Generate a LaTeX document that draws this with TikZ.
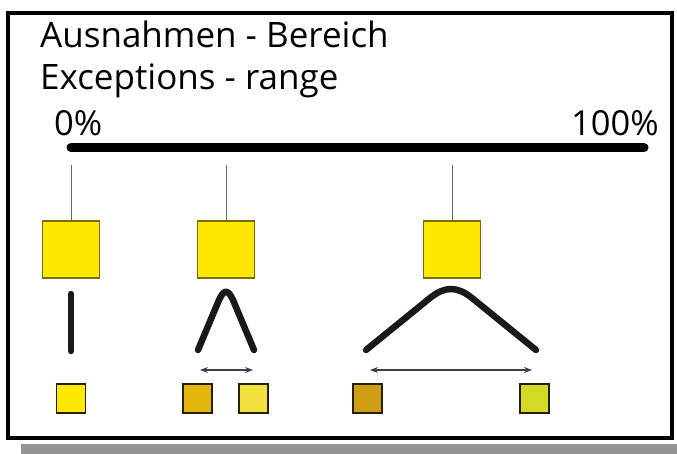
\documentclass[tikz,border=0pt]{standalone}
\usepackage{fontspec}
\setmainfont{Open Sans}
\usetikzlibrary{arrows.meta}
\definecolor{yel}{HTML}{FFE800}
\definecolor{yelb}{HTML}{7A6A10}
\definecolor{gold}{HTML}{E4B60C}
\definecolor{lyel}{HTML}{F3E23C}
\definecolor{brgold}{HTML}{D09C16}
\definecolor{ygreen}{HTML}{D2DA26}
\tikzset{
  bigsq/.style={draw=yelb, line width=1.2pt, fill=yel, minimum size=57pt, inner sep=0pt},
  smallsq/.style={draw=black!70!yelb, line width=1.2pt, minimum size=29pt, inner sep=0pt},
  tickline/.style={draw=black!60, line width=1pt},
  curveline/.style={draw=black!90, line width=6.5pt, line cap=round, line join=round},
  rng/.style={draw=black!75, line width=1.1pt, {Stealth[length=8pt,width=6pt]}-{Stealth[length=8pt,width=6pt]}},
  titletext/.style={anchor=base west, inner sep=0pt, font=\fontsize{35}{35}\selectfont},
  pcttext/.style={anchor=base west, inner sep=0pt, font=\fontsize{34.5}{34.5}\selectfont}
}
\begin{document}
\begin{tikzpicture}[x=1pt,y=-1pt]
\useasboundingbox (0,0) rectangle (677,454);
\fill[white] (0,0) rectangle (677,454);
% shadow bar and frame
\fill[black!42] (21,444) rectangle (677,454);
\draw[line width=4pt] (8,13) rectangle (672,438);
% texts
\node[titletext] (t1) at (40,48) {Ausnahmen - Bereich};
\node[titletext] (t2) at (40,90) {Exceptions - range};
\node[pcttext] (p0) at (54,136) {0\%};
\node[pcttext] (p100) at (571,136) {100\%};
% scale bar
\coordinate (b0) at (71,147.5);
\coordinate (b1) at (644,147.5);
\draw[line width=9pt, line cap=round] (b0) -- (b1);
% big squares
\node[bigsq] (s1) at (71,249.5) {};
\node[bigsq] (s2) at (226,249.5) {};
\node[bigsq] (s3) at (452,249.5) {};
\coordinate (k1) at (71,165);
\coordinate (k2) at (226,165);
\coordinate (k3) at (452,165);
\draw[tickline] (k1) -- (s1.north);
\draw[tickline] (k2) -- (s2.north);
\draw[tickline] (k3) -- (s3.north);
% shapes
\draw[curveline] (71,294) -- (71,351);
\draw[curveline] (198,350) -- (219,300) .. controls (224,289) and (228,289) .. (233,300) -- (254,350);
\draw[curveline] (366,350) -- (430,298) .. controls (445,286) and (457,286) .. (472,298) -- (536,350);
% small squares
\node[smallsq, fill=yel] (q1) at (71,398.5) {};
\node[smallsq, fill=gold] (q2a) at (197.5,398.5) {};
\node[smallsq, fill=lyel] (q2b) at (253.5,398.5) {};
\node[smallsq, fill=brgold] (q3a) at (367.5,398.5) {};
\node[smallsq, fill=ygreen] (q3b) at (534.5,398.5) {};
% range arrows
\coordinate (a2l) at (200,370);
\coordinate (a2r) at (253,370);
\coordinate (a3l) at (370,370);
\coordinate (a3r) at (532,370);
\draw[rng] (a2l) -- (a2r);
\draw[rng] (a3l) -- (a3r);
\end{tikzpicture}
\end{document}
